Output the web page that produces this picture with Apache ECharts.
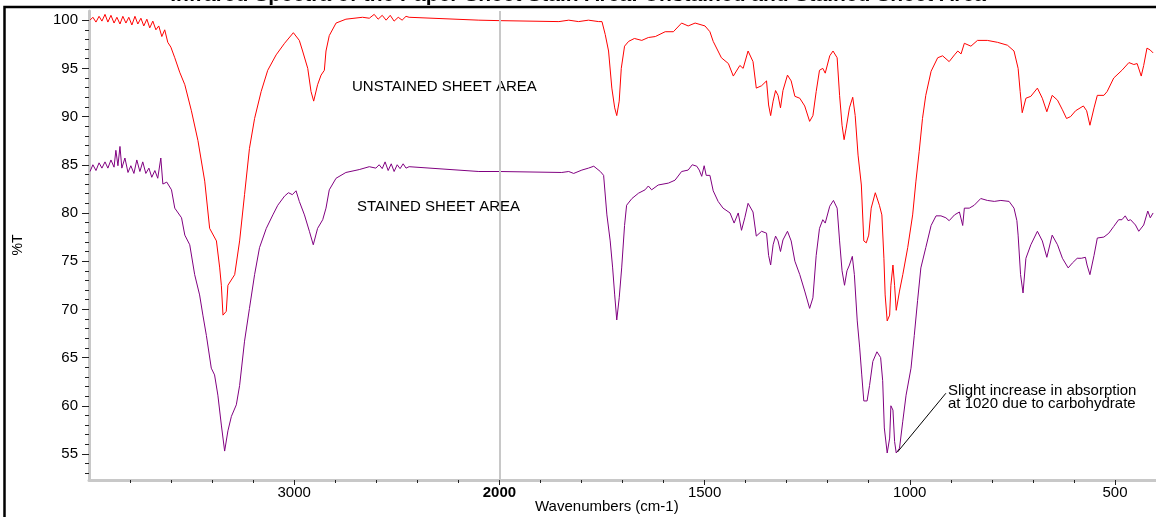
<!DOCTYPE html>
<html lang="en">
<head>
	<meta charset="UTF-8">
	<title>IR spectra</title>
	<style>
		html, body { margin: 0; padding: 0; overflow: hidden; background: #fff; }
	</style>
</head>
<body>
	<div id="main" style="width: 1156px;height:517px;"></div>
</body>
</html>

<script src='https://cdn.jsdelivr.net/npm/echarts@6.0.0/dist/echarts.min.js'></script>
<script>

		// unstained sheet area (red), wavenumber cm-1 / %T
		var unstainedWn = [3995,3981,3966,3951,3937,3922,3908,3893,3878,3864,3849,3835,3820,3806,3791,3776,3762,3747,3733,3718,
			3704,3689,3674,3660,3645,3631,3616,3601,3582,3558,3533,3501,3469,3436,3412,3379,3363,3355,3347,3331,
			3323,3290,3266,3242,3218,3193,3161,3129,3088,3047,3004,2975,2959,2934,2918,2905,2886,2869,2853,2845,
			2829,2796,2748,2667,2634,2610,2591,2571,2552,2532,2513,2493,2474,2455,2440,2100,2000,1855,1831,1807,
			1783,1758,1750,1742,1734,1726,1719,1714,1708,1703,1695,1685,1671,1653,1637,1620,1596,1576,1556,1540,
			1523,1499,1487,1479,1459,1442,1430,1414,1406,1394,1382,1374,1361,1349,1344,1339,1333,1327,1321,1315,
			1309,1298,1289,1280,1268,1256,1244,1236,1228,1220,1212,1206,1195,1187,1177,1171,1165,1160,1155,1147,
			1139,1133,1126,1118,1112,1106,1100,1094,1084,1074,1068,1063,1060,1055,1049,1046,1041,1037,1033,1025,
			1017,1005,993,985,977,969,961,948,932,920,904,891,883,875,867,851,835,811,786,762,
			746,742,736,731,726,717,705,689,677,666,653,640,628,618,608,596,577,569,561,551,
			543,527,519,503,483,466,454,446,436,430,422,414,407];
		var unstainedT = [100.0,100.3,99.8,100.4,99.9,100.6,99.8,100.5,99.7,100.3,99.6,100.4,99.7,100.3,99.5,100.4,99.6,100.2,99.4,100.1,
			99.2,99.9,99.0,99.4,98.3,99.0,97.7,97.2,96.1,94.6,93.3,90.6,87.5,83.3,78.4,77.1,74.3,72.5,69.4,69.8,
			72.5,73.6,77.1,81.9,86.7,89.8,92.6,94.8,96.4,97.6,98.7,97.9,96.8,95.0,92.6,91.6,93.3,94.3,94.8,96.8,
			98.4,99.7,100.1,100.3,100.2,100.6,100.1,100.5,100.0,100.5,99.9,100.3,100.0,100.4,100.3,100.0,99.95,99.85,100.0,99.85,
			100.0,99.85,99.85,98.5,96.8,92.95,90.9,90.1,91.6,95.0,97.3,97.8,98.1,97.9,98.2,98.3,98.8,98.8,99.7,99.4,
			99.7,99.4,98.8,97.8,96.1,95.5,94.2,95.3,95.0,96.8,95.7,92.95,93.2,93.7,91.2,90.1,91.6,92.7,92.2,90.9,
			92.7,94.3,93.7,92.1,91.9,91.1,89.5,90.1,92.6,94.8,95.0,94.5,96.3,96.8,96.1,92.2,89.1,87.6,88.8,90.9,
			92.0,90.1,86.0,82.9,77.1,76.9,77.7,80.5,82.1,80.8,79.8,75.3,71.5,68.8,69.4,72.5,74.6,72.5,69.9,71.9,
			73.6,76.4,79.8,83.3,86.4,89.8,92.2,94.7,96.1,96.3,95.7,96.4,96.8,96.5,97.6,97.3,97.9,97.9,97.7,97.4,
			96.8,96.6,95.0,92.6,90.4,91.9,92.1,92.95,91.9,90.5,92.2,91.7,90.7,89.8,90.0,90.6,91.1,90.6,89.1,90.9,
			92.2,92.2,92.6,94.0,94.8,95.6,95.4,95.5,94.2,95.3,97.1,96.9,96.6];

		// stained sheet area (purple)
		var stainedWn = [3995,3981,3966,3951,3937,3922,3908,3893,3878,3869,3859,3849,3840,3825,3810,3796,3781,3767,3752,3738,
			3723,3708,3694,3679,3665,3650,3640,3621,3598,3582,3549,3533,3509,3485,3461,3445,3428,3404,3388,3372,
			3355,3339,3323,3306,3282,3266,3242,3218,3193,3169,3136,3104,3080,3047,3028,3009,2991,2975,2950,2926,
			2907,2886,2861,2845,2829,2796,2748,2683,2634,2602,2586,2571,2557,2542,2527,2513,2498,2484,2469,2455,
			2440,2100,2000,1848,1831,1819,1799,1783,1770,1754,1746,1738,1730,1724,1719,1714,1708,1702,1695,1690,
			1677,1661,1645,1637,1629,1613,1588,1572,1556,1540,1530,1519,1513,1507,1501,1496,1487,1479,1467,1455,
			1438,1428,1418,1410,1402,1394,1382,1374,1361,1349,1344,1339,1333,1327,1321,1315,1309,1298,1289,1280,
			1268,1256,1244,1236,1228,1220,1212,1206,1195,1186,1177,1171,1165,1159,1153,1147,1140,1135,1128,1122,
			1117,1112,1104,1098,1090,1080,1071,1066,1062,1055,1049,1046,1041,1037,1033,1025,1017,1009,997,989,
			981,973,961,948,936,924,912,904,891,879,871,867,855,843,827,811,794,778,758,746,
			739,736,730,724,717,705,689,677,666,653,640,628,614,604,592,582,572,568,561,551,
			543,527,515,503,491,483,475,468,462,450,442,430,420,414,407];
		var stainedT = [84.3,85.0,84.4,85.2,84.65,85.3,84.65,85.5,84.75,86.5,84.9,86.9,84.65,85.7,84.2,84.9,84.1,85.5,84.3,85.3,
			84.1,84.65,83.7,84.4,83.6,85.7,83.0,83.2,82.4,80.5,79.5,77.7,76.7,73.6,71.5,69.4,67.3,63.9,63.2,61.1,
			58.0,55.3,57.4,58.9,60.1,62.1,66.7,70.1,73.6,76.4,78.4,79.8,80.8,81.75,82.1,81.9,82.3,81.2,79.8,78.1,
			76.7,78.4,79.3,80.5,82.4,83.6,84.2,84.5,84.8,84.65,85.0,84.6,85.3,84.4,85.1,84.3,85.0,84.6,85.1,84.65,
			84.8,84.3,84.3,84.2,84.3,84.1,84.45,84.65,84.85,84.3,83.9,79.8,77.1,74.3,71.5,68.9,71.2,74.3,78.7,80.8,
			81.5,82.05,82.4,82.8,82.4,82.9,83.1,83.4,84.3,84.45,85.0,84.85,84.45,83.8,84.9,83.9,83.9,82.3,81.2,80.5,
			80.0,78.95,80.0,78.2,79.5,81.0,80.1,77.6,78.1,77.9,75.6,74.6,76.7,77.6,77.1,76.0,77.2,78.1,77.1,75.0,
			73.6,71.9,70.1,71.2,75.6,78.4,79.3,78.95,80.7,81.3,80.5,77.1,74.0,72.5,74.0,74.6,75.5,73.6,68.8,66.0,
			63.2,60.5,60.5,62.1,64.6,65.6,65.0,62.6,57.7,55.1,56.65,60.0,59.55,56.3,55.1,55.6,58.4,61.1,63.9,67.3,
			70.9,74.3,76.4,78.7,79.7,79.7,79.5,79.2,79.8,80.1,78.7,80.5,80.5,80.8,81.5,81.3,81.2,81.3,81.2,80.5,
			79.2,77.7,73.6,71.7,75.3,76.7,78.1,77.1,75.4,77.7,76.7,75.3,74.3,74.8,75.3,75.3,75.4,74.6,73.6,75.6,
			77.4,77.5,77.9,78.6,79.3,79.3,79.7,79.2,79.3,78.75,78.1,78.75,80.2,79.5,80.0];

		var xLabelWn = [3000, 2000, 1500, 1000, 500];
		var yLabels = [55, 60, 65, 70, 75, 80, 85, 90, 95, 100];

		// above 2000 cm-1 the axis is compressed to half scale
		function toAxis(w) { return w > 2000 ? 2000 + (w - 2000) / 2 : w; }
		function fromAxis(u) { return u > 2000 ? 2000 + (u - 2000) * 2 : u; }
		function pairs(wn, t) {
			return wn.map(function (w, i) { return [toAxis(w), t[i]]; });
		}

		var minorX = [];
		for (var u = 500; u < 3000; u += 100) minorX.push(u);
		var minorY = [];
		for (var v = 53; v <= 100; v++) minorY.push(v);
		var majorX = xLabelWn.map(toAxis);

		var font = 'Liberation Sans, Arial, sans-serif';
		var myChart = echarts.init(document.getElementById('main'));

		var option = {
			animation: false,
			grid: { left: 89, right: -3, top: 11, bottom: 37 },
			xAxis: [{
				type: 'value', min: 400, max: 3000, inverse: true, position: 'bottom',
				axisLine: { lineStyle: { color: '#c8c8c8', width: 3 } },
				axisTick: { customValues: minorX, length: 3, lineStyle: { color: '#222' } },
				axisLabel: { show: false },
				splitLine: { show: false }
			}, {
				type: 'value', min: 400, max: 3000, inverse: true, position: 'bottom',
				axisLine: { show: false },
				axisTick: { customValues: majorX, length: 5, lineStyle: { color: '#222' } },
				axisLabel: {
					customValues: majorX, color: '#000', fontFamily: font, fontSize: 15, margin: 5,
					formatter: function (val) {
						var w = Math.round(fromAxis(val));
						return w === 2000 ? '{b|2000}' : String(w);
					},
					rich: { b: { fontWeight: 'bold', fontFamily: font, fontSize: 15, color: '#000' } }
				},
				splitLine: { show: false }
			}],
			yAxis: [{
				type: 'value', min: 52.3, max: 100.95, position: 'left',
				axisLine: { show: true, lineStyle: { color: '#c8c8c8', width: 3 } },
				axisTick: { show: true, customValues: minorY, length: 4, lineStyle: { color: '#222' } },
				axisLabel: { show: false },
				splitLine: { show: false }
			}, {
				type: 'value', min: 52.3, max: 100.95, position: 'left',
				axisLine: { show: false },
				axisTick: { show: true, customValues: yLabels, length: 7, lineStyle: { color: '#222' } },
				axisLabel: { customValues: yLabels, color: '#000', fontFamily: font, fontSize: 15, margin: 11 },
				splitLine: { show: false }
			}],
			series: [{
				name: 'Unstained', type: 'line', showSymbol: false,
				data: pairs(unstainedWn, unstainedT),
				lineStyle: { color: '#ff0000', width: 1 },
				markLine: {
					silent: true, symbol: 'none', label: { show: false },
					lineStyle: { color: '#c8c8c8', width: 2, type: 'solid' },
					data: [{ xAxis: 2000 }]
				},
				z: 3
			}, {
				name: 'Stained', type: 'line', showSymbol: false,
				data: pairs(stainedWn, stainedT),
				lineStyle: { color: '#800080', width: 1 },
				markLine: {
					silent: true, symbol: 'none', label: { show: false },
					lineStyle: { color: '#000', width: 1, type: 'solid' },
					data: [[{ coord: [toAxis(1030), 55.2] }, { coord: [toAxis(912), 61.3] }]]
				},
				z: 3
			}],
			graphic: [
				{ type: 'text', left: 'center', top: -15, style: { text: 'Infrared Spectra of the Paper Sheet Stain Area: Unstained and Stained Sheet Area', font: 'bold 21px ' + font, fill: '#000' } },
				{ type: 'rect', shape: { x: 4.5, y: 7, width: 1300, height: 700 }, style: { fill: 'none', stroke: '#000', lineWidth: 2.5 } },
				{ type: 'text', left: 352, top: 79, style: { text: 'UNSTAINED SHEET AREA', font: '15px ' + font, fill: '#000' } },
				{ type: 'text', left: 357, top: 199, style: { text: 'STAINED SHEET AREA', font: '15px ' + font, fill: '#000' } },
				{ type: 'text', left: 948, top: 383, style: { text: 'Slight increase in absorption\nat 1020 due to carbohydrate', font: '15px ' + font, fill: '#000', lineHeight: 13 } },
				{ type: 'text', left: 535, top: 499, style: { text: 'Wavenumbers (cm-1)', font: '15px ' + font, fill: '#000' } },
				{ type: 'text', x: 18, y: 245, rotation: Math.PI / 2, style: { text: '%T', font: '14px ' + font, fill: '#000', align: 'center', verticalAlign: 'middle' } }
			]
		};
		myChart.setOption(option);

	</script>
